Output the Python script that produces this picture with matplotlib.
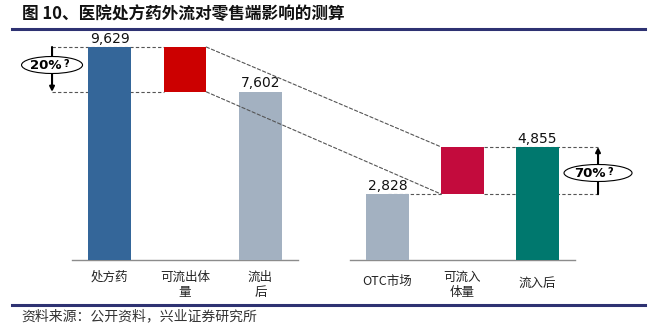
import matplotlib
matplotlib.use("Agg")
import matplotlib.pyplot as plt
from matplotlib.patches import Ellipse, ConnectionPatch
from matplotlib.lines import Line2D
from matplotlib import transforms

plt.rcParams['font.family'] = ['Noto Sans CJK SC', 'DejaVu Sans']

# ---- data ----
left_labels = ["处方药", "可流出体\n量", "流出\n后"]
right_labels = ["OTC市场", "可流入\n体量", "流入后"]
rx_total = 9629        # 处方药
rx_after = 7602        # 流出后
otc_total = 2828       # OTC市场
otc_after = 4855       # 流入后
out_share = "20%"
in_share = "70%"

W, H = 655, 328
fig = plt.figure(figsize=(W / 100, H / 100), dpi=100)
fig.patch.set_facecolor("white")


def fx(px):
    return px / W


def fy(py):
    return 1 - py / H


# two panels with their own vertical scale
axL = fig.add_axes([fx(72), fy(260), fx(226), 230 / H])
axR = fig.add_axes([fx(350), fy(260), fx(225), 230 / H])
axL.set_ylim(0, 230 / (213 / 9629))
axR.set_ylim(0, 230 / (113 / 4855))

for ax in (axL, axR):
    ax.set_xlim(-0.5, 2.5)
    for s in ("top", "left", "right"):
        ax.spines[s].set_visible(False)
    ax.spines["bottom"].set_color("#8c8c8c")
    ax.spines["bottom"].set_linewidth(1.0)
    ax.set_xticks([])
    ax.set_yticks([])
    ax.patch.set_alpha(0)

bw = 0.565
dash = dict(color="#555555", lw=0.8, linestyle=(0, (3, 2)))

# left panel: outflow
outflow = rx_total - rx_after
axL.bar(0, rx_total, width=bw, color="#346699", zorder=3)
axL.bar(1, outflow, bottom=rx_after, width=bw, color="#CC0000", zorder=3)
axL.bar(2, rx_after, width=bw, color="#A3B1C1", zorder=3)

# right panel: inflow
inflow = otc_after - otc_total
axR.bar(0, otc_total, width=bw, color="#A3B1C1", zorder=3)
axR.bar(1, inflow, bottom=otc_total, width=bw, color="#C30B3D", zorder=3)
axR.bar(2, otc_after, width=bw, color="#00786E", zorder=3)

# value labels
for ax, x, v in [(axL, 0, rx_total), (axL, 2, rx_after),
                 (axR, 0, otc_total), (axR, 2, otc_after)]:
    ax.annotate(f"{v:,}", (x, v), xytext=(0, 1), textcoords="offset points",
                ha="center", va="bottom", fontsize=10, color="#111111",
                family="DejaVu Sans", annotation_clip=False)

# guide lines
arrow_xL = -0.765
arrow_xR = 2.807
axL.plot([arrow_xL, 1 - bw / 2], [rx_total, rx_total], clip_on=False, zorder=1, **dash)
axL.plot([arrow_xL, 1 - bw / 2], [rx_after, rx_after], clip_on=False, zorder=1, **dash)
axR.plot([0, 1 - bw / 2], [otc_total, otc_total], clip_on=False, zorder=1, **dash)
axR.plot([1 + bw / 2, arrow_xR], [otc_after, otc_after], clip_on=False, zorder=1, **dash)
axR.plot([1 + bw / 2, arrow_xR], [otc_total, otc_total], clip_on=False, zorder=1, **dash)

for ya, yb in [(rx_total, otc_after), (rx_after, otc_total)]:
    con = ConnectionPatch(xyA=(1 + bw / 2, ya), coordsA=axL.transData,
                          xyB=(1 - bw / 2, yb), coordsB=axR.transData,
                          **dash, zorder=1)
    fig.add_artist(con)

# share arrows with oval tags
def share_tag(ax, x, y_from, y_to, yc, ew, eh, text, dx_txt):
    ax.annotate("", xy=(x, y_to), xytext=(x, y_from),
                arrowprops=dict(arrowstyle="-|>", lw=1.5, color="black",
                                mutation_scale=7, shrinkA=0, shrinkB=0),
                annotation_clip=False, zorder=4)
    e = Ellipse((x, yc), ew, eh, facecolor="white", edgecolor="black",
                lw=0.8, clip_on=False, zorder=5)
    ax.add_patch(e)
    ax.annotate(text, (x, yc), xytext=(dx_txt, -0.3), textcoords="offset points",
                ha="right", va="center", fontsize=9.5, fontweight="bold",
                family="DejaVu Sans", zorder=6, annotation_clip=False)
    ax.annotate("?", (x, yc), xytext=(dx_txt + 1.3, 0.8), textcoords="offset points",
                ha="left", va="center", fontsize=7, fontweight="bold",
                family="DejaVu Sans", zorder=6, annotation_clip=False)

sL = 213 / 9629
sR = 113 / 4855
share_tag(axL, arrow_xL, rx_total, rx_after, (260 - 65) / sL,
          61 / 75.33, 17 / sL, out_share, 7.0)
share_tag(axR, arrow_xR, otc_total, otc_after, (260 - 173) / sR,
          68 / 75.0, 17 / sR, in_share, 5.5)

# category labels
label_y = {axL: [277, 285, 285], axR: [281, 285, 283]}
for ax, labels in [(axL, left_labels), (axR, right_labels)]:
    tr = transforms.blended_transform_factory(ax.transData, fig.transFigure)
    for i, lab in enumerate(labels):
        ax.text(i, fy(label_y[ax][i]), lab, transform=tr, ha="center",
                va="center", ma="center", fontsize=9, color="#222222",
                linespacing=1.15)

# title, rules and source
fig.text(fx(22), fy(14), "图 10、医院处方药外流对零售端影响的测算",
         fontsize=12, fontweight="bold", color="#111111", va="center", ha="left")
for yy in (29, 305):
    fig.add_artist(Line2D([fx(12), fx(645)], [fy(yy), fy(yy)],
                          color="#2E3272", lw=2.2, transform=fig.transFigure))
fig.text(fx(21), fy(316), "资料来源：公开资料，兴业证券研究所",
         fontsize=10, color="#333333", va="center", ha="left")

fig.savefig("out.png", dpi=100)
